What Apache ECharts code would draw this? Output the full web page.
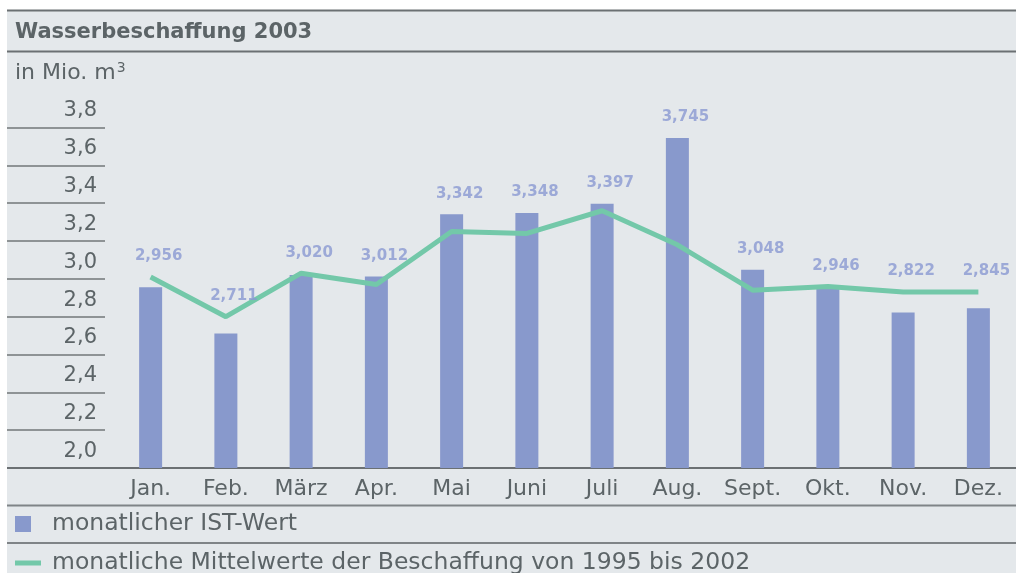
<!DOCTYPE html>
<html>
<head>
<meta charset="utf-8">
<title>Wasserbeschaffung 2003</title>
<script src="https://cdn.jsdelivr.net/npm/echarts@6/dist/echarts.min.js"></script>
<style>
    html, body { margin: 0; padding: 0; background: #ffffff; }
    #chart { width: 1016px; height: 573px; }
</style>
</head>
<body>
<div id="chart"></div>
<script>
// chart data
var months = ['Jan.', 'Feb.', 'März', 'Apr.', 'Mai', 'Juni', 'Juli', 'Aug.', 'Sept.', 'Okt.', 'Nov.', 'Dez.'];
var istWerte = [2.956, 2.711, 3.020, 3.012, 3.342, 3.348, 3.397, 3.745, 3.048, 2.946, 2.822, 2.845];
var mittelwerte = [3.01, 2.80, 3.03, 2.97, 3.25, 3.24, 3.36, 3.18, 2.94, 2.96, 2.93, 2.93];
var yMin = 2.0;
var yMax = 3.8;
var yStep = 0.2;

var nameIst = 'monatlicher IST-Wert';
var nameMittel = 'monatliche Mittelwerte der Beschaffung von 1995 bis 2002';

var FONT = '"DejaVu Sans", Verdana, sans-serif';
var TEXT = '#5c6467';
var RULE = '#6b7073';

// labels sit above whichever is higher, bar or line
var labelAnchor = istWerte.map(function (v, i) {
    return Math.max(v, mittelwerte[i]);
});

function comma(v, d) {
    return v.toFixed(d).replace('.', ',');
}

function hline(y, color) {
    return {
        type: 'line',
        z: 1,
        shape: { x1: 7, y1: y, x2: 1016, y2: y },
        style: { stroke: color || RULE, lineWidth: 2 }
    };
}

var myChart = echarts.init(document.getElementById('chart'));

var option = {
    animation: false,
    backgroundColor: '#ffffff',
    textStyle: { fontFamily: FONT },
    graphic: [
        {
            type: 'rect',
            z: 0,
            shape: { x: 7, y: 10, width: 1009, height: 563 },
            style: { fill: '#e4e8eb' }
        },
        hline(10.5),
        hline(51.5),
        hline(468),
        hline(505.5, '#7f8487'),
        hline(543, '#7f8487'),
        {
            type: 'text',
            z: 5,
            style: {
                x: 15, y: 33,
                text: 'Wasserbeschaffung 2003',
                font: 'bold 21px ' + FONT,
                fill: TEXT,
                verticalAlign: 'middle'
            }
        },
        {
            type: 'text',
            z: 5,
            style: {
                x: 15, y: 73,
                text: 'in Mio. m{s|3}',
                font: '22px ' + FONT,
                fill: TEXT,
                verticalAlign: 'middle',
                rich: {
                    s: { fontSize: 14, fontFamily: FONT, fill: TEXT, verticalAlign: 'top', padding: [0, 0, 10, 1] }
                }
            }
        }
    ],
    legend: [
        {
            data: [nameIst],
            left: 15,
            top: 512,
            padding: 0,
            itemWidth: 16,
            itemHeight: 16,
            icon: 'rect',
            selectedMode: false,
            textStyle: { fontSize: 23.5, color: TEXT, fontFamily: FONT, padding: [0, 0, 0, 16] }
        },
        {
            data: [nameMittel],
            left: 15,
            top: 551,
            padding: 0,
            itemWidth: 26,
            itemHeight: 5,
            icon: 'rect',
            selectedMode: false,
            textStyle: { fontSize: 23.5, color: TEXT, fontFamily: FONT, padding: [0, 0, 0, 6] }
        }
    ],
    grid: {
        left: 113,
        right: -4,
        top: 127.5,
        bottom: 105,
        containLabel: false
    },
    xAxis: {
        type: 'category',
        data: months,
        axisLine: { show: true, lineStyle: { color: RULE, width: 2 } },
        axisTick: { show: false },
        axisLabel: { margin: 10, fontSize: 22, color: TEXT, fontFamily: FONT }
    },
    yAxis: {
        type: 'value',
        min: yMin,
        max: yMax,
        interval: yStep,
        offset: 8,
        axisLine: { show: false },
        axisTick: { show: true, length: 98, lineStyle: { color: '#72777a', width: 1.5 } },
        splitLine: { show: false },
        axisLabel: {
            margin: 8,
            fontSize: 21,
            color: TEXT,
            fontFamily: FONT,
            verticalAlign: 'bottom',
            lineHeight: 33,
            formatter: function (v) { return comma(v, 1); }
        }
    },
    series: [
        {
            name: nameIst,
            type: 'bar',
            data: istWerte,
            barWidth: 23,
            itemStyle: { color: '#8899cc' },
            z: 2
        },
        {
            name: nameMittel,
            type: 'line',
            data: mittelwerte,
            symbol: 'none',
            color: '#73c8a9',
            lineStyle: { color: '#73c8a9', width: 5 },
            itemStyle: { color: '#73c8a9' },
            z: 3
        },
        {
            name: 'labels',
            type: 'scatter',
            data: labelAnchor,
            symbolSize: 0,
            silent: true,
            z: 4,
            label: {
                show: true,
                position: 'top',
                distance: 13,
                offset: [8, 0],
                fontSize: 15,
                fontWeight: 'bold',
                color: '#8a99d2',
                fontFamily: FONT,
                formatter: function (p) { return comma(istWerte[p.dataIndex], 3); }
            }
        }
    ]
};

myChart.setOption(option);
</script>
</body>
</html>
